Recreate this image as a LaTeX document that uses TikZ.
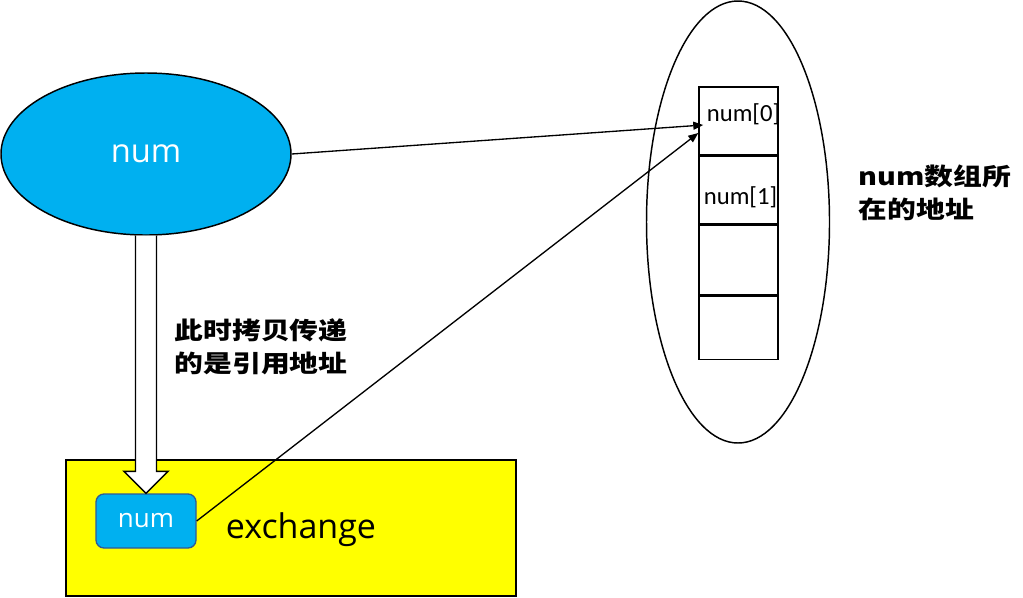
\documentclass[tikz,border=0pt]{standalone}
\usepackage{fontspec}
\setmainfont{Open Sans}
\newfontfamily\cjk[FakeStretch=1.2]{Noto Sans CJK SC}
\newfontfamily\cellfont{Carlito}
\usetikzlibrary{arrows.meta,positioning,calc,shapes.geometric}
\definecolor{NumBlue}{RGB}{0,176,240}
\definecolor{NumEdge}{RGB}{47,90,150}
\definecolor{BoxYellow}{RGB}{255,255,0}

\begin{document}
\begin{tikzpicture}[
  x=0.75pt,y=-0.75pt,
  blob/.style={ellipse,draw,line width=1.1pt,inner sep=0pt},
  cell/.style={draw,line width=1.1pt,minimum width=59.25pt,inner sep=0pt},
  idx/.style={font=\cellfont\fontsize{18.5}{20}\selectfont,inner sep=0pt},
  note/.style={font=\cjk\bfseries\fontsize{18}{24.75}\selectfont,align=left,inner sep=0pt},
  ptr/.style={-{Triangle[length=7.5pt,width=6pt]},line width=1pt}
]
\useasboundingbox (0,0) rectangle (1023,597);
% heap side
\node[blob,minimum width=137.25pt,minimum height=331.5pt] (heap) at (738,222) {};
\node[cell,minimum height=51pt] (c0) at (738.5,121) {};
\node[cell,minimum height=50.25pt,below=0pt of c0] (c1) {};
\node[cell,minimum height=52.5pt,below=0pt of c1] (c2) {};
\node[cell,minimum height=47.25pt,below=0pt of c2] (c3) {};
\node[idx] at ($(c0.center)+(5,-7)$) {num[0]};
\node[idx] at ($(c1.center)+(2,7)$) {num[1]};
\node[note] (where) at (935,193) {num数组所\\在的地址};

% stack side
\node[blob,fill=NumBlue,text=white,minimum width=217.5pt,minimum height=121.5pt,
      font=\fontsize{24.5}{28}\selectfont] (num) at (146,154) {num};
\node[draw,line width=1.1pt,fill=BoxYellow,minimum width=337.5pt,minimum height=102pt] (exch) at (291,528) {};
\node[font=\fontsize{25.5}{28}\selectfont] at (301,530) {exchange};
\node[draw=NumEdge,line width=1pt,fill=NumBlue,text=white,rounded corners=6pt,
      minimum width=75pt,minimum height=40.5pt,font=\fontsize{19.5}{22}\selectfont] (arg) at (146,521) {num};
\node[note] (copy) at (261,347) {此时拷贝传递\\的是引用地址};

% copy arrow
\draw[line width=1.1pt,fill=white]
  ($(num.south)+(-10.5,0)$) -- ($(arg.north)+(-10.5,-22)$) -- ($(arg.north)+(-22,-22)$)
  -- (arg.north) -- ($(arg.north)+(22,-22)$) -- ($(arg.north)+(10.5,-22)$)
  -- ($(num.south)+(10.5,0)$);

% references
\draw[ptr] (num.east) -- ($(c0.west)+(5,4)$);
\draw[ptr] (arg.east) -- ($(c0.west)+(0,12)$);
\end{tikzpicture}
\end{document}
